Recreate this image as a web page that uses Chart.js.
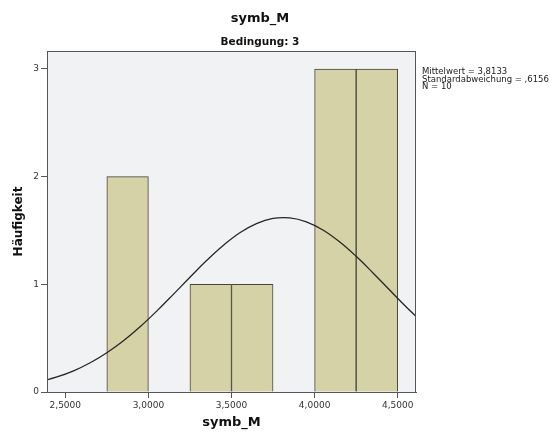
<!DOCTYPE html>
<html><head><meta charset="utf-8">
<script src="https://cdn.jsdelivr.net/npm/chart.js@4.4.1/dist/chart.umd.min.js"></script>
<style>html,body{margin:0;padding:0;background:#fff;}#wrap{width:558px;height:437px;}</style>
</head><body><div id="wrap"><canvas id="c" width="558" height="437"></canvas></div>
<script>
// Histogram bins (bin width 0.25) and frequencies
const binCenters = [2.875, 3.125, 3.375, 3.625, 3.875, 4.125, 4.375];
const binCounts  = [2, null, 1, 1, null, 3, 3];
// Normal curve, values
const curveX = [2.35, 2.45, 2.55, 2.65, 2.75, 2.85, 2.95, 3.05, 3.15, 3.25, 3.35, 3.45, 3.55, 3.65, 3.75, 3.85, 3.95, 4.05, 4.15, 4.25, 4.35, 4.45, 4.55, 4.65];
const curveY = [0.096, 0.140, 0.197, 0.272, 0.365, 0.476, 0.606, 0.751, 0.907, 1.066, 1.221, 1.361, 1.479, 1.564, 1.612, 1.617, 1.581, 1.505, 1.395, 1.260, 1.108, 0.949, 0.792, 0.643];
const xTicks = [2.5, 3.0, 3.5, 4.0, 4.5];
const yTicks = [0, 1, 2, 3];
const statsLines = ['Mittelwert = 3,8133', 'Standardabweichung = ,6156', 'N = 10'];
const titleText = 'symb_M';
const subtitleText = 'Bedingung: 3';
const xTitle = 'symb_M';
const yTitle = 'Häufigkeit';

const FONT = '"DejaVu Sans", sans-serif';

const decor = {
  id: 'decor',
  beforeDraw(chart) {
    const {ctx, chartArea: a} = chart;
    ctx.save();
    ctx.fillStyle = '#f1f2f4';
    ctx.fillRect(a.left, a.top, a.right - a.left, a.bottom - a.top);
    ctx.restore();
  },
  afterDraw(chart) {
    const {ctx, chartArea: a} = chart;
    ctx.save();
    ctx.strokeStyle = '#555';
    ctx.lineWidth = 1;
    ctx.strokeRect(Math.round(a.left) + 0.5, Math.round(a.top) + 0.5, Math.round(a.right - a.left) - 1, Math.round(a.bottom - a.top));
    ctx.fillStyle = '#111';
    ctx.textAlign = 'center';
    ctx.textBaseline = 'alphabetic';
    ctx.font = 'bold 13px ' + FONT;
    ctx.fillText(titleText, 260, 22);
    ctx.font = 'bold 10.5px ' + FONT;
    ctx.fillText(subtitleText, 260, 44.5);
    ctx.font = 'bold 13px ' + FONT;
    ctx.fillText(xTitle, (a.left + a.right) / 2, 426);
    ctx.save();
    ctx.translate(21.5, (a.top + a.bottom) / 2);
    ctx.rotate(-Math.PI / 2);
    ctx.font = 'bold 12px ' + FONT;
    ctx.fillText(yTitle, 0, 0);
    ctx.restore();
    ctx.textAlign = 'left';
    ctx.font = '8.5px ' + FONT;
    ctx.fillStyle = '#222';
    const bl = [74, 81.5, 89];
    statsLines.forEach((t, i) => ctx.fillText(t, 422, bl[i]));
    ctx.restore();
  }
};

new Chart(document.getElementById('c'), {
  type: 'bar',
  data: {
    datasets: [
      {
        type: 'line',
        data: curveX.map((x, i) => ({x: x, y: curveY[i]})),
        borderColor: '#262626',
        borderWidth: 1.3,
        pointRadius: 0,
        tension: 0.4,
        fill: false,
        order: 0
      },
      {
        type: 'bar',
        data: binCenters.map((x, i) => ({x: x, y: binCounts[i]})),
        backgroundColor: '#d6d2a7',
        borderColor: '#45453a',
        borderWidth: 1,
        barPercentage: 1,
        categoryPercentage: 1,
        order: 1
      }
    ]
  },
  options: {
    responsive: false,
    devicePixelRatio: 1,
    animation: false,
    layout: {padding: {left: 0, right: 142, top: 51, bottom: 0}},
    plugins: {legend: {display: false}, tooltip: {enabled: false}, title: {display: false}},
    scales: {
      x: {
        type: 'linear',
        offset: false,
        min: 2.39,
        max: 4.61,
        afterBuildTicks: s => { s.ticks = xTicks.map(v => ({value: v})); },
        afterFit: s => { s.height = 45; },
        ticks: {
          callback: v => Number(v).toFixed(4).replace('.', ','),
          font: {family: FONT, size: 9},
          color: '#333',
          padding: 2,
          maxRotation: 0,
          autoSkip: false
        },
        grid: {display: true, offset: false, drawOnChartArea: false, drawTicks: true, tickLength: 6, color: '#555'},
        border: {display: true, color: '#555', width: 1}
      },
      y: {
        type: 'linear',
        min: 0,
        max: 3.167,
        afterBuildTicks: s => { s.ticks = yTicks.map(v => ({value: v})); },
        afterFit: s => { s.width = 47; },
        ticks: {
          callback: v => String(v),
          font: {family: FONT, size: 9},
          color: '#333',
          padding: 2
        },
        grid: {display: true, drawOnChartArea: false, drawTicks: true, tickLength: 6, color: '#555'},
        border: {display: true, color: '#555', width: 1}
      }
    }
  },
  plugins: [decor]
});
</script>
</body></html>
